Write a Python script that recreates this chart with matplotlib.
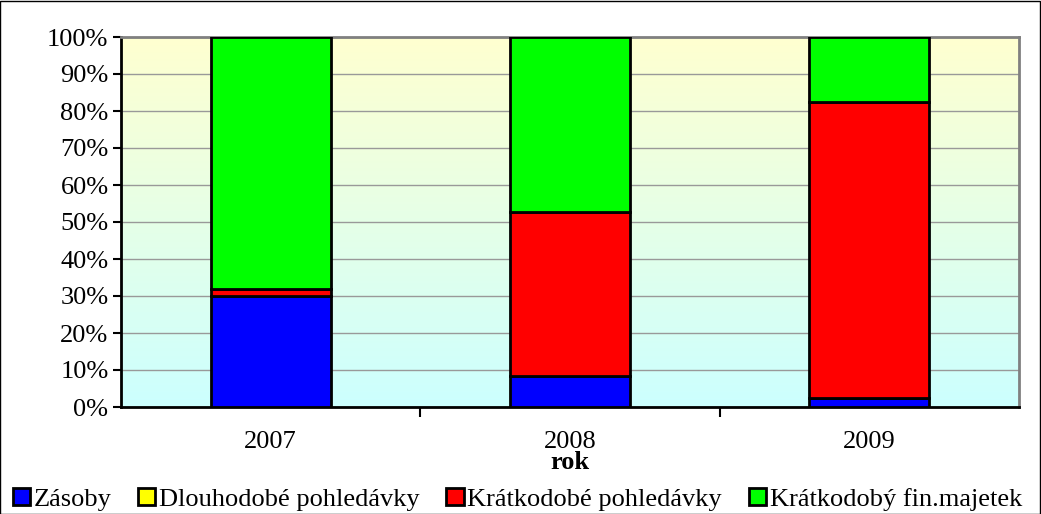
import numpy as np
import matplotlib.pyplot as plt
from matplotlib.colors import LinearSegmentedColormap

plt.rcParams['font.family'] = ['Liberation Serif', 'DejaVu Serif']

years = ['2007', '2008', '2009']
zasoby = [30.0, 8.4, 2.4]
dlouhodobe = [0.0, 0.0, 0.0]
kratkodobe = [1.8, 44.3, 80.0]
fin_majetek = [68.2, 47.3, 17.6]

series = [
    ('Zásoby', zasoby, '#0000FF'),
    ('Dlouhodobé pohledávky', dlouhodobe, '#FFFF00'),
    ('Krátkodobé pohledávky', kratkodobe, '#FF0000'),
    ('Krátkodobý fin.majetek', fin_majetek, '#00FF00'),
]

fig = plt.figure(figsize=(10.41, 5.14), dpi=100)
ax = fig.add_axes([121 / 1041, 107 / 514, 898 / 1041, 370 / 514])

# plot area background: pale yellow fading to pale cyan
grad = LinearSegmentedColormap.from_list('bg', ['#CCFFFF', '#FFFFD0'])
ax.imshow(np.linspace(0, 1, 256).reshape(-1, 1), cmap=grad, aspect='auto',
          extent=[-0.5, 2.5, 0, 100], origin='lower', zorder=0)

x = np.arange(len(years))
bottom = np.zeros(len(years))
handles = []
for name, vals, color in series:
    vals = np.array(vals)
    h = ax.bar(x, vals, width=0.4, bottom=bottom, color=color,
               edgecolor='black', linewidth=2, label=name, zorder=3)
    handles.append(h)
    bottom += vals

ax.set_xlim(-0.5, 2.5)
ax.set_ylim(0, 100)
ax.set_yticks(np.arange(0, 101, 10))
ax.set_yticklabels([f'{v}%' for v in range(0, 101, 10)], fontsize=19)
ax.yaxis.grid(True, color='#999999', linewidth=1, zorder=1)
ax.set_axisbelow(True)

ax.set_xticks(x)
ax.set_xticklabels(years, fontsize=19)
ax.set_xticks([0.5, 1.5], minor=True)
ax.tick_params(axis='x', which='major', length=0, pad=17)
ax.tick_params(axis='x', which='minor', length=7, width=1.5, color='black')
ax.tick_params(axis='y', length=6, width=1.5, pad=3)

for side in ['left', 'bottom']:
    ax.spines[side].set_linewidth(2)
    ax.spines[side].set_color('black')
for side in ['top', 'right']:
    ax.spines[side].set_linewidth(2)
    ax.spines[side].set_color('#808080')

ax.set_xlabel('rok', fontsize=19, fontweight='bold', labelpad=-1)

fig.legend(handles=handles, loc='lower center', bbox_to_anchor=(0.497, -0.04),
           ncol=4, frameon=False, fontsize=19, handlelength=0.65,
           handleheight=0.65, handletextpad=0.15, columnspacing=1.0)

# thin frame around the whole figure
fig.patches.append(plt.Rectangle((0.0, 0.0), 0.999, 0.998, transform=fig.transFigure,
                                 fill=False, edgecolor='black', linewidth=1))

fig.savefig('out.png', dpi=100)
